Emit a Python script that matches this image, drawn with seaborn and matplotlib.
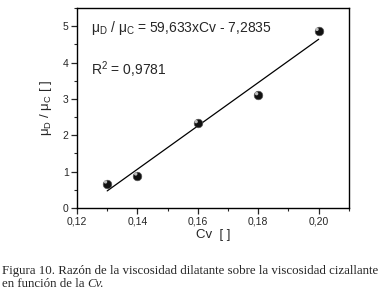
import numpy as np
import pandas as pd
import matplotlib
matplotlib.use('Agg')
import matplotlib.pyplot as plt
import matplotlib.transforms as mtransforms
from matplotlib.ticker import MultipleLocator, FuncFormatter
import seaborn as sns

cv = [0.13, 0.14, 0.16, 0.18, 0.20]
ratio = [0.67, 0.89, 2.33, 3.10, 4.87]
slope = 59.633
intercept = -7.2835
r2 = 0.9781

df = pd.DataFrame({'Cv': cv, 'ratio': ratio})
fit_x = np.array([min(cv), max(cv)])
fit = pd.DataFrame({'Cv': fit_x, 'ratio': slope * fit_x + intercept})

sns.set_style('ticks')
plt.rcParams['font.family'] = ['Liberation Sans', 'DejaVu Sans']
plt.rcParams['mathtext.fontset'] = 'custom'
plt.rcParams['mathtext.rm'] = 'Liberation Sans'
plt.rcParams['mathtext.it'] = 'Liberation Sans:italic'

fig = plt.figure(figsize=(3.83, 2.9), dpi=100)
ax = fig.add_axes([0.201, 0.283, 0.710, 0.689])

sns.lineplot(data=fit, x='Cv', y='ratio', color='black', linewidth=0.9, ax=ax)
sns.scatterplot(data=df, x='Cv', y='ratio', color='#111111', edgecolor='#555555',
                linewidth=0.5, s=38, zorder=3, ax=ax)
# small highlight to look like the shaded spheres
shift = mtransforms.ScaledTranslation(-1.2 / 72, 1.2 / 72, fig.dpi_scale_trans)
ax.scatter(cv, ratio, s=6, color='#bbbbbb', edgecolor='none', zorder=4,
           transform=ax.transData + shift)

ax.set_xlim(0.12, 0.21)
ax.set_ylim(0, 5.5)
ax.xaxis.set_major_locator(MultipleLocator(0.02))
ax.xaxis.set_minor_locator(MultipleLocator(0.01))
ax.yaxis.set_major_locator(MultipleLocator(1))
ax.yaxis.set_minor_locator(MultipleLocator(0.5))
ax.xaxis.set_major_formatter(FuncFormatter(lambda v, p: f'{v:.2f}'.replace('.', ',')))
ax.yaxis.set_major_formatter(FuncFormatter(lambda v, p: f'{v:.0f}'))
ax.tick_params(which='major', direction='out', length=4, width=0.9, labelsize=7.5, pad=2)
ax.tick_params(which='minor', direction='out', length=2.5, width=0.8)
for s in ax.spines.values():
    s.set_linewidth(1.0)
    s.set_color('black')

ax.set_xlabel('Cv  [ ]', fontsize=9.5, labelpad=2)
ax.set_ylabel(r'$\mathregular{\mu_D}$ / $\mathregular{\mu_C}$ [ ]', fontsize=9.5, labelpad=6)

ax.text(0.05, 0.90, r'$\mathregular{\mu_D}$ / $\mathregular{\mu_C}$ = 59,633xCv - 7,2835',
        transform=ax.transAxes, fontsize=10, va='center')
ax.text(0.05, 0.69, r'R$\mathregular{^2}$ = 0,9781', transform=ax.transAxes,
        fontsize=10, va='center')

cap = {'family': ['Liberation Serif', 'DejaVu Serif'], 'fontsize': 9.3}
fig.text(0.005, 0.065, 'Figura 10. Razón de la viscosidad dilatante sobre la viscosidad cizallante',
         **cap, va='center')
t2 = fig.text(0.005, 0.020, 'en función de la', **cap, va='center')
fig.canvas.draw()
bb = t2.get_window_extent().transformed(fig.transFigure.inverted())
fig.text(bb.x1 + 0.008, 0.020, 'Cv.', **cap, va='center', style='italic')

fig.savefig('out.png', dpi=100)
